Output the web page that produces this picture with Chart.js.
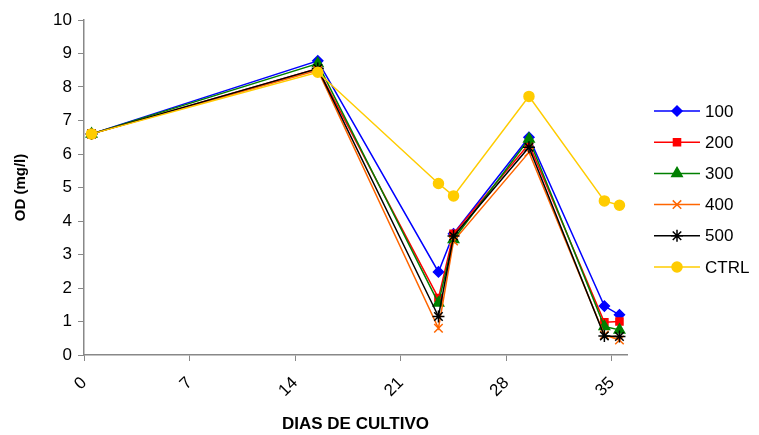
<!DOCTYPE html>
<html>
<head>
<meta charset="utf-8">
<script src="https://cdn.jsdelivr.net/npm/chart.js@4.4.0/dist/chart.umd.min.js"></script>
<style>
  html, body { margin: 0; padding: 0; background: #fff; }
  #wrap { width: 759px; height: 435px; position: relative; }
</style>
</head>
<body>
<div id="wrap"><canvas id="c" width="759" height="435"></canvas></div>
<script>
// dias de cultivo
const dias = [0.5, 15.5, 23.5, 24.5, 29.5, 34.5, 35.5];
const xTicks = [0, 7, 14, 21, 28, 35];

const od100  = [6.6, 8.78, 2.48, 3.62, 6.5, 1.46, 1.2];
const od200  = [6.6, 8.55, 1.7, 3.62, 6.3, 0.98, 1.0];
const od300  = [6.6, 8.7, 1.55, 3.45, 6.45, 0.85, 0.75];
const od400  = [6.6, 8.5, 0.8, 3.4, 6.05, 0.6, 0.45];
const od500  = [6.6, 8.55, 1.15, 3.55, 6.2, 0.57, 0.55];
const odCtrl = [6.6, 8.44, 5.12, 4.75, 7.72, 4.6, 4.47];

const series = [
  { label: '100',  data: od100,  color: '#0000ff', style: 'rectRot',  r: 5 },
  { label: '200',  data: od200,  color: '#ff0000', style: 'rect',     r: 5 },
  { label: '300',  data: od300,  color: '#008000', style: 'triangle', r: 6 },
  { label: '400',  data: od400,  color: '#ff6600', style: 'crossRot', r: 6 },
  { label: '500',  data: od500,  color: '#000000', style: 'star',     r: 6 },
  { label: 'CTRL', data: odCtrl, color: '#ffcc00', style: 'circle',   r: 5 }
];

const FONT = 'Arial, "Liberation Sans", sans-serif';

const legendPlugin = {
  id: 'sideLegend',
  afterDraw(chart) {
    const ctx = chart.ctx;
    ctx.save();
    series.forEach((s, i) => {
      const y = 111 + i * 31.2;
      ctx.strokeStyle = s.color;
      ctx.lineWidth = 1.5;
      ctx.beginPath();
      ctx.moveTo(654, y);
      ctx.lineTo(700, y);
      ctx.stroke();
      ctx.fillStyle = s.color;
      Chart.helpers.drawPoint(ctx, {
        pointStyle: s.style, radius: s.r, rotation: 0, borderWidth: 1.5
      }, 677, y);
      ctx.fillStyle = '#000';
      ctx.font = '17px ' + FONT;
      ctx.textBaseline = 'middle';
      ctx.fillText(s.label, 705, y + 1);
    });
    ctx.restore();
  }
};

new Chart(document.getElementById('c'), {
  type: 'line',
  data: {
    datasets: series.map((s, i) => ({
      label: s.label,
      data: s.data.map((v, k) => ({ x: dias[k], y: v })),
      borderColor: s.color,
      backgroundColor: s.color,
      borderWidth: 1.5,
      pointStyle: s.style,
      pointRadius: s.r,
      pointBorderWidth: 1.5,
      pointBorderColor: s.color,
      pointBackgroundColor: s.color,
      tension: 0,
      order: series.length - i
    }))
  },
  options: {
    responsive: false,
    animation: false,
    layout: { padding: { top: 20, right: 132, left: 12, bottom: 0 } },
    plugins: { legend: { display: false }, tooltip: { enabled: false } },
    scales: {
      x: {
        type: 'linear',
        min: 0,
        max: 36,
        afterBuildTicks(scale) {
          scale.ticks = xTicks.map(v => ({ value: v }));
        },
        afterFit(scale) { scale.height = 80; },
        ticks: {
          color: '#000',
          font: { family: FONT, size: 17 },
          minRotation: 45,
          maxRotation: 45,
          padding: 12
        },
        grid: { display: true, drawOnChartArea: false, drawTicks: true, tickLength: 6, color: '#888' },
        border: { color: '#888', width: 1.5 },
        title: {
          display: true,
          text: 'DIAS DE CULTIVO',
          color: '#000',
          font: { family: FONT, size: 17, weight: 'bold' },
          padding: { top: 0, bottom: 0 }
        }
      },
      y: {
        min: 0,
        max: 10,
        afterFit(scale) { scale.width = 72; },
        ticks: {
          stepSize: 1,
          color: '#000',
          font: { family: FONT, size: 17 },
          padding: 6
        },
        grid: { display: true, drawOnChartArea: false, drawTicks: true, tickLength: 6, color: '#888' },
        border: { color: '#888', width: 1.5 },
        title: {
          display: true,
          text: 'OD (mg/l)',
          color: '#000',
          font: { family: FONT, size: 15, weight: 'bold' },
          padding: { top: 0, bottom: 4 }
        }
      }
    }
  },
  plugins: [legendPlugin]
});
</script>
</body>
</html>
